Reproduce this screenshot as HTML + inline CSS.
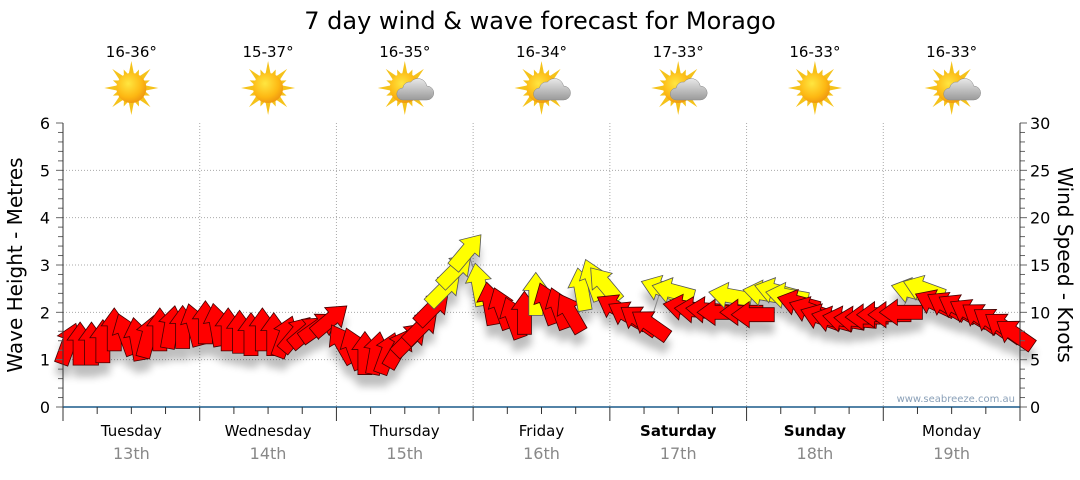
<!DOCTYPE html>
<html><head><meta charset="utf-8"><style>
body{margin:0;background:#fff;width:1080px;height:475px;overflow:hidden;font-family:"Liberation Sans",sans-serif}
</style></head><body>
<svg id="chart" width="1080" height="475" xmlns="http://www.w3.org/2000/svg" font-family="DejaVu Sans, Liberation Sans, sans-serif">
<defs>
<radialGradient id="sunG" cx="40%" cy="35%" r="65%"><stop offset="0" stop-color="#ffe640"/><stop offset="0.7" stop-color="#fdb813"/><stop offset="1" stop-color="#f09a10"/></radialGradient>
<linearGradient id="cloudG" x1="0" y1="0" x2="0" y2="1"><stop offset="0" stop-color="#e8e8e8"/><stop offset="1" stop-color="#9a9a9a"/></linearGradient>
<filter id="sh" x="-30%" y="-30%" width="160%" height="180%"><feGaussianBlur stdDeviation="4"/></filter>
</defs>
<text x="540" y="29" font-size="24" text-anchor="middle" fill="#000">7 day wind &amp; wave forecast for Morago</text>
<g id="grid"></g>
<g id="weather"></g>
<g id="shadows" opacity="0.25" filter="url(#sh)"></g>
<path id="line" fill="none" stroke="#888" stroke-width="1"/>
<g id="arrows"></g>
<g id="axes"></g>
<text transform="translate(22,265) rotate(-90)" font-size="20" text-anchor="middle">Wave Height - Metres</text>
<text transform="translate(1058,265) rotate(90)" font-size="20" text-anchor="middle">Wind Speed - Knots</text>
<text x="1015" y="402" font-size="10" fill="#8aa0b8" text-anchor="end">www.seabreeze.com.au</text>
</svg>
<script>
const days=["Tuesday","Wednesday","Thursday","Friday","Saturday","Sunday","Monday"];
const dates=["13th","14th","15th","16th","17th","18th","19th"];
const temps=["16-36°","15-37°","16-35°","16-34°","17-33°","16-33°","16-33°"];
const cloudy=[false,false,true,true,true,false,true];
const leftTicks=[0,1,2,3,4,5,6];
const rightTicks=[0,5,10,15,20,25,30];
// wind speed in knots, every 2 hours
const speeds=[6.75,6.75,6.75,7,8.25,7.75,7.25,7.5,8.25,8.5,8.5,8.75,
9,8.75,8.25,8,7.75,8.25,7.75,7.5,7.75,8,8.5,9.25,
6.75,6.25,5.75,5.75,5.75,6.25,7.25,8.5,10.5,12.5,14.5,16.5,
13,11,10.5,9.5,10,12,11,10.5,10,12.5,13.5,13,
10.5,9.75,9.25,8.75,12.5,12.25,10.5,10.25,10.25,10,11.75,10,
9.75,12,12.25,11.75,11,10.25,9.5,9.25,9.25,9.25,9.5,9.75,
9.75,10,12.25,12.5,11,10.75,10.5,10,9.5,9,8.5,7.75];
// arrow heading, degrees clockwise from up
const dirs=[20,0,0,0,0,-20,-10,15,0,10,0,-15,
0,-10,0,0,0,0,0,20,40,50,55,50,
-30,-20,0,10,20,30,45,45,45,45,45,40,
-10,-10,-20,-20,0,0,-20,-20,-30,-10,-20,-40,
-60,-60,-55,-55,-70,-75,-80,-85,-85,-90,-80,-90,
-90,-80,-75,-80,-75,-70,-70,-75,-80,-85,-90,-90,
-90,-90,-75,-70,-65,-60,-60,-60,-55,-55,-55,-55];
const X0=63,X1=1020,Y0=407,Y1=123;
const dayW=(X1-X0)/7;
const xT=i=>X0+(i+0.5)*dayW/12;
const yM=m=>Y0-(m/6)*(Y0-Y1);
const yK=k=>Y0-(k/30)*(Y0-Y1);
const NS="http://www.w3.org/2000/svg";
function mk(tag,attrs,parent,txt){const e=document.createElementNS(NS,tag);for(const k in attrs)e.setAttribute(k,attrs[k]);if(txt!==undefined)e.textContent=txt;parent.appendChild(e);return e;}
const grid=document.getElementById('grid'),axes=document.getElementById('axes'),weather=document.getElementById('weather');
leftTicks.forEach(v=>{if(v>0&&v<6){const g=mk('line',{x1:X0,x2:X1,y1:yM(v),y2:yM(v),stroke:'#aaa','stroke-dasharray':'1,2'},grid);}
 const t=mk('text',{x:50,y:yM(v)+6,'font-size':16,'text-anchor':'end'},axes,String(v));});
rightTicks.forEach(v=>{const t=mk('text',{x:1030,y:yK(v)+6,'font-size':16},axes,String(v));});
for(let m=0;m<=30;m++){const y=yM(m*0.2);const l=m%5==0?7:5;mk('line',{x1:X0-l,x2:X0,y1:y,y2:y,stroke:'#666'},axes);mk('line',{x1:X1,x2:X1+l,y1:y,y2:y,stroke:'#666'},axes);}
mk('line',{x1:X0,x2:X0,y1:Y1,y2:Y0,stroke:'#333'},axes);
mk('line',{x1:X1,x2:X1,y1:Y1,y2:Y0,stroke:'#333'},axes);
mk('line',{x1:X0,x2:X1,y1:Y0,y2:Y0,stroke:'#1a5a8a','stroke-width':1.5},axes);
for(let i=0;i<=28;i++){const x=X0+i*dayW/4;mk('line',{x1:x,x2:x,y1:Y0,y2:Y0+(i%4==0?14:7),stroke:'#333'},axes);}
days.forEach((d,i)=>{
 const cx=X0+(i+0.5)*dayW;
 if(i>0){const g=mk('line',{x1:X0+i*dayW,x2:X0+i*dayW,y1:Y1,y2:Y0,stroke:'#aaa','stroke-dasharray':'1,2'},grid);}
 const t=mk('text',{x:cx,y:436,'font-size':15,'text-anchor':'middle','font-weight':(i==4||i==5)?'bold':'normal'},axes,d);
 const t2=mk('text',{x:cx,y:459,'font-size':16,'text-anchor':'middle',fill:'#888'},axes,dates[i]);
 const tt=mk('text',{x:cx,y:57,'font-size':15,'text-anchor':'middle'},weather,temps[i]);
 const g=mk('g',{transform:`translate(${cx},88)`},weather);
 
 
 for(let r=0;r<16;r++){const a=r*22.5;const L=r%2?20:27;mk('polygon',{points:`-3,-12 0,-${L} 3,-12`,fill:'#f5c21a',transform:`rotate(${a})`},g);}
 mk('circle',{r:15,fill:'url(#sunG)'},g);
 if(cloudy[i]){mk('path',{d:'M2,14 h24 a7,7 0 0 0 0,-14 a9,9 0 0 0 -16,-4 a7,7 0 0 0 -8,6 a6,6 0 0 0 0,12 z',fill:'url(#cloudG)',stroke:'#888','stroke-width':0.5,transform:'translate(-4,-2)'},g);}
});
const arr=document.getElementById('arrows'),sh=document.getElementById('shadows');
const shape='M-7,22 L7,22 L7,-3 L13,-3 L0,-21 L-13,-3 L-7,-3 Z';
let pd='';
speeds.forEach((s,i)=>{const x=xT(i),y=yK(s);pd+=(i?'L':'M')+x.toFixed(1)+','+y.toFixed(1);});
document.getElementById('line').setAttribute('d',pd);
speeds.forEach((s,i)=>{
 const x=xT(i),y=yK(s);
 mk('path',{d:shape,fill:'#000',transform:`translate(${x},${y+12}) rotate(${dirs[i]})`},sh);
 const a=mk('path',{d:shape,fill:s>=11.5?'#ffff00':'#ff0000',stroke:s>=11.5?'#555':'#400','stroke-width':0.8,transform:`translate(${x},${y}) rotate(${dirs[i]})`},arr);
 
 
});
</script>
</body></html>
